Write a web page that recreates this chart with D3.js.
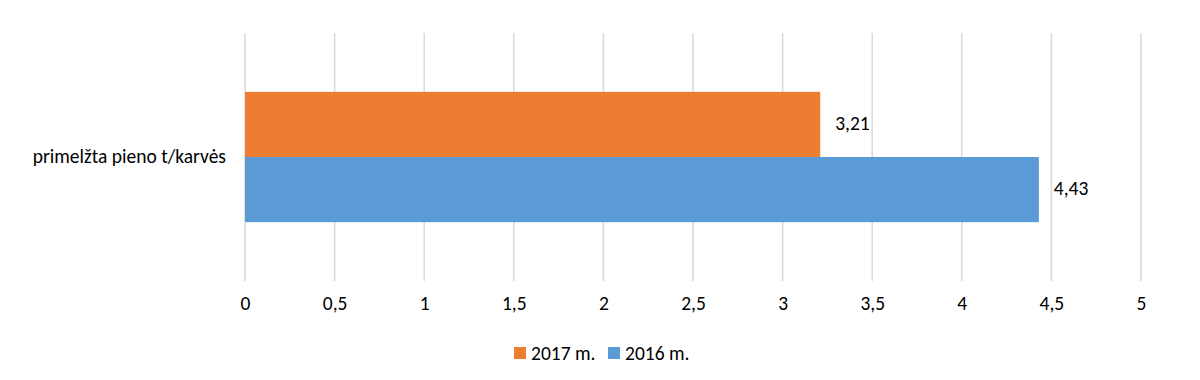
<!DOCTYPE html>
<html><head><meta charset="utf-8">
<script src="https://cdn.jsdelivr.net/npm/d3@7"></script>
<style>body{margin:0;background:#fff}svg{display:block}</style>
</head><body>
<svg id="c" width="1200" height="380"></svg>
<script>
const categories = ["primelžta pieno t/karvės"];
const seriesNames = ["2017 m.", "2016 m."];
const values2017 = [3.21];
const values2016 = [4.43];
const tickValues = [0, 0.5, 1, 1.5, 2, 2.5, 3, 3.5, 4, 4.5, 5];
const colors = ["#ED7D31", "#5B9BD5"];

const FONT = "Carlito, 'Open Sans', sans-serif";
const FS = 19.5;
const svg = d3.select("#c");
const x = d3.scaleLinear().domain([0, 5]).range([245, 1141]);
const y = d3.scaleBand().domain(categories).range([28, 286]).paddingInner(0).paddingOuter(0.49);
const ys = d3.scaleBand().domain(seriesNames).range([0, y.bandwidth()]);
const fmt = v => String(v).replace(".", ",");

// gridlines
svg.append("g").selectAll("line").data(tickValues).join("line")
  .attr("x1", d => x(d)).attr("x2", d => x(d))
  .attr("y1", 33).attr("y2", 281)
  .attr("stroke", "#d9d9d9").attr("stroke-width", 1.5);

// x axis labels
const xa = svg.append("g").attr("transform", "translate(0,281)")
  .call(d3.axisBottom(x).tickValues(tickValues).tickFormat(fmt).tickSize(0).tickPadding(15));
xa.select(".domain").remove();
xa.selectAll("text").attr("font-family", FONT).attr("font-size", FS).attr("fill", "#000");

// y axis label
const ya = svg.append("g").attr("transform", "translate(245,0)")
  .call(d3.axisLeft(y).tickSize(0).tickPadding(19));
ya.select(".domain").remove();
ya.selectAll("text").attr("font-family", FONT).attr("font-size", FS).attr("fill", "#000");

const data = categories.map((c, i) => ({cat: c, vals: [values2017[i], values2016[i]]}));
data.forEach(d => {
  d.vals.forEach((v, j) => {
    const s = seriesNames[j];
    svg.append("rect")
      .attr("x", x(0)).attr("y", y(d.cat) + ys(s))
      .attr("width", x(v) - x(0)).attr("height", ys.bandwidth())
      .attr("fill", colors[j]);
    svg.append("text")
      .attr("x", x(v) + 15).attr("y", y(d.cat) + ys(s) + ys.bandwidth() / 2 - 1)
      .attr("dy", "0.35em")
      .attr("font-family", FONT).attr("font-size", FS).attr("fill", "#000")
      .text(fmt(v));
  });
});

// legend
const legendItems = [{name: seriesNames[0], x: 514}, {name: seriesNames[1], x: 608}];
legendItems.forEach((it, i) => {
  svg.append("rect").attr("x", it.x).attr("y", 347).attr("width", 12).attr("height", 12).attr("fill", colors[i]);
  svg.append("text").attr("x", it.x + 17).attr("y", 353).attr("dy", "0.35em")
    .attr("font-family", FONT).attr("font-size", FS).attr("fill", "#000").text(it.name);
});
</script>
</body></html>
